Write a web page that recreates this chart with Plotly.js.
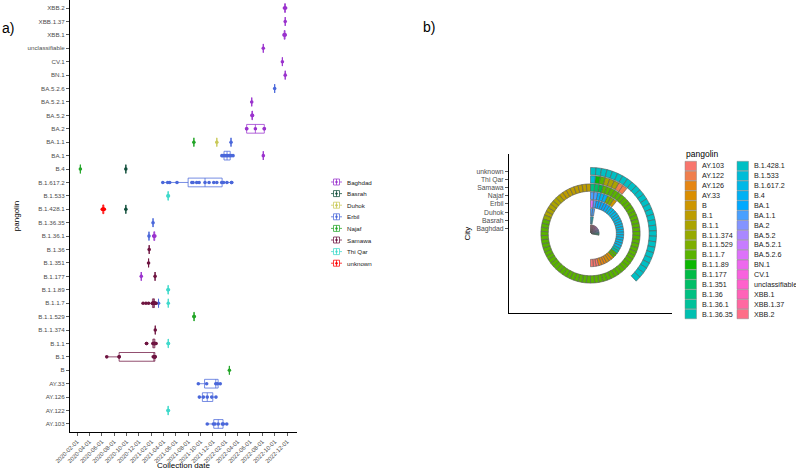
<!DOCTYPE html>
<html><head><meta charset="utf-8">
<script src="https://cdn.plot.ly/plotly-3.0.1.min.js"></script>
<style>html,body{margin:0;padding:0;background:#fff}#chart{width:796px;height:472px}</style>
</head><body><div id="chart"></div>
<script>
// ---- categories ----
const lineages = ['AY.103','AY.122','AY.126','AY.33','B','B.1','B.1.1','B.1.1.374','B.1.1.529','B.1.1.7','B.1.1.89','B.1.177','B.1.351','B.1.36','B.1.36.1','B.1.36.35','B.1.428.1','B.1.533','B.1.617.2','B.4','BA.1','BA.1.1','BA.2','BA.5.2','BA.5.2.1','BA.5.2.6','BN.1','CV.1','unclassifiable','XBB.1','XBB.1.37','XBB.2'];
const cities = ['Baghdad','Basrah','Duhok','Erbil','Najaf','Samawa','Thi Qar','unknown'];
const cityColors = ['#9A32CD','#0F4D3A','#C9C958','#4A67DA','#22A527','#6E1440','#3FD9CB','#FF0000'];

// ---- panel a: samples (lineage, collection date) per city ----
const baghdadLineage = ['XBB.2','XBB.2','XBB.2','XBB.1.37','XBB.1','XBB.1','XBB.1','unclassifiable','CV.1','BN.1','BA.5.2.1','BA.5.2','BA.5.2','BA.2','BA.2','BA.2','BA.2','BA.2','BA.1','B.1.36.1','B.1.36.1','B.1.36.1','B.1.177'];
const baghdadDate = ['2022-11-18','2022-11-21','2022-11-24','2022-11-22','2022-11-16','2022-11-19','2022-11-22','2022-08-06','2022-11-08','2022-11-22','2022-06-10','2022-06-11','2022-06-14','2022-05-16','2022-05-16','2022-06-28','2022-08-11','2022-08-11','2022-08-06','2021-02-12','2021-02-15','2021-02-18','2020-12-13'];
const basrahLineage = ['B.4','B.1.428.1'];
const basrahDate = ['2020-09-28','2020-09-28'];
const duhokLineage = ['BA.1.1'];
const duhokDate = ['2021-12-20'];
const erbilLineage = ['BA.5.2.6','BA.1.1',
  'BA.1','BA.1','BA.1','BA.1','BA.1','BA.1','BA.1','BA.1',
  'B.1.617.2','B.1.617.2','B.1.617.2','B.1.617.2','B.1.617.2','B.1.617.2','B.1.617.2','B.1.617.2','B.1.617.2','B.1.617.2','B.1.617.2','B.1.617.2','B.1.617.2','B.1.617.2','B.1.617.2','B.1.617.2','B.1.617.2',
  'B.1.36.35','B.1.36.1','B.1.1.7',
  'AY.33','AY.33','AY.33','AY.33','AY.33',
  'AY.126','AY.126','AY.126','AY.126','AY.126',
  'AY.103','AY.103','AY.103','AY.103','AY.103','AY.103','AY.103'];
const erbilDate = ['2022-10-01','2022-02-28',
  '2022-01-14','2022-01-20','2022-01-29','2022-02-05','2022-02-12','2022-02-20','2022-02-28','2022-03-10',
  '2021-03-29','2021-04-22','2021-05-02','2021-06-07','2021-08-19','2021-08-25','2021-09-12','2021-09-24','2021-10-23','2021-11-12','2021-12-05','2021-12-20','2022-01-13','2022-01-22','2022-02-08','2022-03-03','2022-03-03',
  '2021-02-09','2021-01-20','2021-03-08',
  '2021-09-20','2021-10-31','2021-12-15','2021-12-23','2022-01-06',
  '2021-09-25','2021-10-15','2021-11-03','2021-11-25','2021-12-16',
  '2021-11-03','2021-12-03','2021-12-11','2021-12-27','2022-01-16','2022-01-21','2022-02-07'];
const najafLineage = ['BA.1.1','B.4','B.1.1.529','B.1.1.529','B'];
const najafDate = ['2021-08-29','2020-02-17','2021-08-29','2021-08-31','2022-02-20'];
const samawaLineage = ['B.1.36','B.1.351','B.1.177',
  'B.1.1.7','B.1.1.7','B.1.1.7','B.1.1.7','B.1.1.7','B.1.1.7','B.1.1.7','B.1.1.7','B.1.1.7','B.1.1.7','B.1.1.7','B.1.1.7','B.1.1.7','B.1.1.7','B.1.1.7','B.1.1.7',
  'B.1.1.374',
  'B.1.1','B.1.1','B.1.1','B.1.1','B.1.1','B.1.1','B.1.1','B.1.1','B.1.1','B.1.1',
  'B.1','B.1','B.1','B.1','B.1','B.1','B.1','B.1'];
const samawaDate = ['2021-01-21','2021-01-18','2021-02-19',
  '2020-12-22','2021-01-05','2021-01-18','2021-02-05','2021-02-07','2021-02-09','2021-02-10','2021-02-11','2021-02-12','2021-02-13','2021-02-14','2021-02-15','2021-02-17','2021-02-19','2021-02-21','2021-02-23',
  '2021-02-20',
  '2021-01-08','2021-01-08','2021-02-08','2021-02-12','2021-02-14','2021-02-15','2021-02-16','2021-02-18','2021-02-20','2021-02-24',
  '2020-06-26','2020-08-26','2020-08-26','2021-02-10','2021-02-16','2021-02-17','2021-02-19','2021-02-19'];
const thiqarLineage = ['B.1.533','B.1.533','B.1.1.89','B.1.1.89','B.1.1.7','B.1.1','B.1.1','AY.122','AY.122'];
const thiqarDate = ['2021-04-23','2021-04-26','2021-04-23','2021-04-26','2021-04-25','2021-04-24','2021-04-26','2021-04-23','2021-04-26'];
const unknownLineage = ['B.1.428.1','B.1.428.1','B.1.428.1','B.1.428.1','B.1.428.1'];
const unknownDate = ['2020-06-04','2020-06-07','2020-06-09','2020-06-11','2020-06-14'];

// ---- panel b: sample counts per city and lineage ----
const ringBaghdadLineage = ['B.1.177','B.1.36.1','BA.1','BA.2','BA.5.2','BA.5.2.1','BN.1','CV.1','unclassifiable','XBB.1','XBB.1.37','XBB.2'];
const ringBaghdadCount   = [1,3,1,3,2,1,1,1,1,3,1,3];
const ringBasrahLineage = ['B.1.428.1','B.4'];
const ringBasrahCount   = [1,1];
const ringDuhokLineage = ['BA.1.1'];
const ringDuhokCount   = [2];
const ringErbilLineage = ['AY.103','AY.126','AY.33','B.1.1.7','B.1.36.1','B.1.36.35','B.1.617.2','BA.1','BA.1.1','BA.5.2.6'];
const ringErbilCount   = [3,3,3,2,1,1,17,5,1,1];
const ringNajafLineage = ['B','B.1.1.529','B.4','BA.1.1'];
const ringNajafCount   = [1,2,3,2];
const ringSamawaLineage = ['B.1','B.1.1','B.1.1.374','B.1.1.7','B.1.177','B.1.351','B.1.36'];
const ringSamawaCount   = [8,6,1,56,1,1,1];
const ringThiqarLineage = ['AY.122','B.1.1','B.1.1.7','B.1.1.89','B.1.533'];
const ringThiqarCount   = [2,3,1,1,1];
const ringUnknownLineage = ['B.1.428.1'];
const ringUnknownCount   = [28];

// ---- helpers ----
function hcl(h, c, l) {
  const hr = h * Math.PI / 180;
  const U = c * Math.cos(hr), V = c * Math.sin(hr);
  const Y = l > 8 ? Math.pow((l + 16) / 116, 3) : l / 903.3;
  const Xn = 0.95047, Yn = 1, Zn = 1.08883;
  const den = Xn + 15 * Yn + 3 * Zn;
  const un = 4 * Xn / den, vn = 9 * Yn / den;
  const u = U / (13 * l) + un, v = V / (13 * l) + vn;
  const X = Y * 9 * u / (4 * v), Z = Y * (12 - 3 * u - 20 * v) / (4 * v);
  const lin = [
    3.2404542 * X - 1.5371385 * Y - 0.4985314 * Z,
    -0.9692660 * X + 1.8760108 * Y + 0.0415560 * Z,
    0.0556434 * X - 0.2040259 * Y + 1.0572252 * Z];
  return '#' + lin.map(t => {
    let s = t <= 0.0031308 ? 12.92 * t : 1.055 * Math.pow(t, 1 / 2.4) - 0.055;
    s = Math.max(0, Math.min(1, s));
    return Math.round(s * 255).toString(16).padStart(2, '0');
  }).join('');
}
const palette = lineages.map((_, i) => hcl(15 + i * 360 / lineages.length, 100, 65));
function rgba(hex, a) {
  const n = parseInt(hex.slice(1), 16);
  return `rgba(${n >> 16},${(n >> 8) & 255},${n & 255},${a})`;
}
const W = 796, H = 472;
const PX = p => p / W, PY = p => 1 - p / H;

// ---- traces ----
const traces = [];
const sampleLineages = [baghdadLineage, basrahLineage, duhokLineage, erbilLineage, najafLineage, samawaLineage, thiqarLineage, unknownLineage];
const sampleDates = [baghdadDate, basrahDate, duhokDate, erbilDate, najafDate, samawaDate, thiqarDate, unknownDate];
cities.forEach((c, i) => {
  traces.push({
    type: 'box', orientation: 'h', name: c,
    x: sampleDates[i], y: sampleLineages[i],
    xaxis: 'x', yaxis: 'y',
    boxpoints: 'all', jitter: 0, pointpos: 0, width: 0.65, whiskerwidth: 0,
    fillcolor: 'rgba(255,255,255,0)',
    line: { color: rgba(cityColors[i], 0.75), width: 1 },
    marker: { color: cityColors[i], size: 3.6 },
    showlegend: false, hoverinfo: 'x+y+name'
  });
});

const ringLineages = [ringBaghdadLineage, ringBasrahLineage, ringDuhokLineage, ringErbilLineage, ringNajafLineage, ringSamawaLineage, ringThiqarLineage, ringUnknownLineage];
const ringCounts = [ringBaghdadCount, ringBasrahCount, ringDuhokCount, ringErbilCount, ringNajafCount, ringSamawaCount, ringThiqarCount, ringUnknownCount];
const totals = ringCounts.map(a => a.reduce((s, v) => s + v, 0));
const unit = 360 / Math.max(...totals);
const seg = {};
lineages.forEach(l => seg[l] = { theta: [], base: [], r: [] });
ringLineages.forEach((ls, ci) => {
  let cum = 0;
  for (let j = ls.length - 1; j >= 0; j--) {
    for (let k = 0; k < ringCounts[ci][j]; k++) {
      seg[ls[j]].theta.push((cum + 0.5) * unit);
      seg[ls[j]].base.push(ci + 1 - 0.45);
      seg[ls[j]].r.push(0.9);
      cum++;
    }
  }
});
lineages.forEach((l, i) => {
  if (!seg[l].theta.length) return;
  traces.push({
    type: 'barpolar', subplot: 'polar', name: l,
    r: seg[l].r, base: seg[l].base, theta: seg[l].theta, width: unit,
    marker: { color: palette[i], line: { color: '#5a5a5a', width: 0.6 } },
    showlegend: false, hoverinfo: 'name'
  });
});
traces.push({ type: 'scatter', x: [0.5], y: [0], xaxis: 'x2', yaxis: 'y2', mode: 'markers', marker: { opacity: 0 }, showlegend: false, hoverinfo: 'skip' });

// ---- legends (drawn as shapes + text) ----
const shapes = [], annotations = [];
cities.forEach((c, i) => {
  const yc = 182 + i * 11.6, col = cityColors[i];
  shapes.push({ type: 'line', xref: 'paper', yref: 'paper', x0: PX(331), x1: PX(342), y0: PY(yc), y1: PY(yc), line: { color: rgba(col, 0.75), width: 1 } });
  shapes.push({ type: 'rect', xref: 'paper', yref: 'paper', x0: PX(333.5), x1: PX(339.5), y0: PY(yc + 3), y1: PY(yc - 3), fillcolor: 'white', line: { color: rgba(col, 0.75), width: 1 } });
  shapes.push({ type: 'line', xref: 'paper', yref: 'paper', x0: PX(336.5), x1: PX(336.5), y0: PY(yc + 3), y1: PY(yc - 3), line: { color: rgba(col, 0.75), width: 1 } });
  shapes.push({ type: 'circle', xref: 'paper', yref: 'paper', x0: PX(335.3), x1: PX(337.7), y0: PY(yc + 1.2), y1: PY(yc - 1.2), fillcolor: col, line: { width: 0 } });
  annotations.push({ text: c, xref: 'paper', yref: 'paper', x: PX(345), y: PY(yc), xanchor: 'left', yanchor: 'middle', showarrow: false, font: { size: 6.2, color: '#1a1a1a' } });
});
annotations.push({ text: 'pangolin', xref: 'paper', yref: 'paper', x: PX(684), y: PY(154), xanchor: 'left', yanchor: 'middle', showarrow: false, font: { size: 8.5, color: '#000' } });
lineages.forEach((l, i) => {
  const colIdx = Math.floor(i / 16), row = i % 16;
  const yc = 166 + row * 9.87, kx = colIdx ? 737 : 685;
  shapes.push({ type: 'rect', xref: 'paper', yref: 'paper', x0: PX(kx), x1: PX(kx + 11.5), y0: PY(yc + 4.7), y1: PY(yc - 4.7), fillcolor: palette[i], line: { color: '#8a8a8a', width: 0.5 } });
  annotations.push({ text: l, xref: 'paper', yref: 'paper', x: PX(kx + 14.5), y: PY(yc), xanchor: 'left', yanchor: 'middle', showarrow: false, font: { size: 7.2, color: '#1a1a1a' } });
});
annotations.push({ text: 'Collection date', xref: 'paper', yref: 'paper', x: PX(183.5), y: PY(471), xanchor: 'center', yanchor: 'bottom', showarrow: false, borderpad: 0, font: { size: 8, color: '#000' } });
annotations.push({ text: 'a)', xref: 'paper', yref: 'paper', x: PX(0), y: PY(28), xanchor: 'left', yanchor: 'middle', showarrow: false, font: { size: 14, color: '#000' } });
annotations.push({ text: 'b)', xref: 'paper', yref: 'paper', x: PX(421), y: PY(27), xanchor: 'left', yanchor: 'middle', showarrow: false, font: { size: 14, color: '#000' } });

// ---- layout ----
const cx = 590.5, cy = 233.5, ru = 8.2;
const rOuter = (8.6 - 0.4) * ru;
const layout = {
  width: W, height: H, margin: { l: 0, r: 0, t: 0, b: 0 },
  paper_bgcolor: '#ffffff', plot_bgcolor: 'rgba(0,0,0,0)', showlegend: false, boxmode: 'overlay',
  font: { family: 'Liberation Sans, Arial, sans-serif', color: '#4d4d4d' },
  xaxis: {
    domain: [PX(70), PX(297)], anchor: 'y', type: 'date', range: ['2019-12-28', '2023-01-19'],
    tick0: '2020-02-01', dtick: 'M2', tickformat: '%Y-%m-%d', tickangle: -45,
    tickfont: { size: 5.9, color: '#4d4d4d' }, ticks: 'outside', ticklen: 3, tickwidth: 0.8, tickcolor: '#333',
    showline: true, linecolor: '#000', linewidth: 1, showgrid: false, zeroline: false, automargin: false
  },
  yaxis: {
    domain: [PY(432), 1], anchor: 'x', type: 'category', categoryorder: 'array', categoryarray: lineages,
    range: [-0.6, 31.6], tickfont: { size: 6.2, color: '#4d4d4d' }, ticks: 'outside', ticklen: 3, tickwidth: 0.8, tickcolor: '#333',
    showline: true, linecolor: '#000', linewidth: 1, showgrid: false, zeroline: false, automargin: false,
    title: { text: 'pangolin', font: { size: 8, color: '#000' }, standoff: 6 }
  },
  xaxis2: {
    domain: [PX(509), PX(672)], anchor: 'y2', range: [0, 1], showline: true, linecolor: '#000', linewidth: 1,
    showticklabels: false, ticks: '', showgrid: false, zeroline: false, automargin: false
  },
  yaxis2: {
    domain: [PY(313.3), PY(154)], anchor: 'x2',
    range: [0.4 - (313.3 - cy) / ru, 0.4 + (cy - 154) / ru],
    tickvals: [1, 2, 3, 4, 5, 6, 7, 8], ticktext: cities,
    tickfont: { size: 6.8, color: '#4d4d4d' }, ticks: 'outside', ticklen: 3, tickwidth: 0.8, tickcolor: '#333',
    showline: true, linecolor: '#000', linewidth: 1, showgrid: false, zeroline: false, automargin: false,
    title: { text: 'City', font: { size: 8, color: '#000' }, standoff: 4 }
  },
  polar: {
    domain: { x: [PX(cx - rOuter), PX(cx + rOuter)], y: [PY(cy + rOuter), PY(cy - rOuter)] },
    bgcolor: 'rgba(0,0,0,0)', hole: 0,
    radialaxis: { visible: false, range: [0.4, 8.6] },
    angularaxis: { visible: false, rotation: 90, direction: 'clockwise' }
  },
  shapes: shapes, annotations: annotations
};
Plotly.newPlot('chart', traces, layout, { staticPlot: true, displayModeBar: false });
</script>
</body></html>
